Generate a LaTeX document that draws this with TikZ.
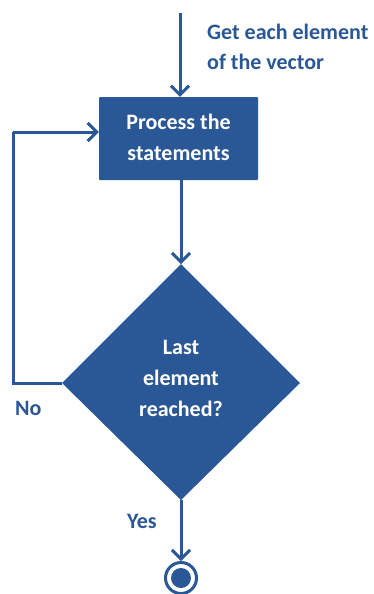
\documentclass[tikz,border=0pt]{standalone}
\usepackage{fontspec}
\setmainfont{Carlito}
\usetikzlibrary{arrows.meta,shapes.geometric}
\definecolor{flowblue}{RGB}{42,87,150}
\begin{document}
\begin{tikzpicture}[x=1pt,y=-1pt,
  flow/.style={draw=flowblue,line width=3pt,-{Straight Barb[length=9pt,width=18pt,line width=3pt]}},
  plain/.style={draw=flowblue,line width=3pt},
  lbl/.style={text=flowblue,font=\bfseries\fontsize{22}{30}\selectfont,inner sep=0pt},
  inlbl/.style={text=white,font=\bfseries\fontsize{22}{31}\selectfont,align=center,inner sep=0pt}]
\useasboundingbox (0,0) rectangle (373,594);
% process box
\node[fill=flowblue,draw=none,minimum width=159pt,minimum height=83pt,inner sep=0pt,
  rounded corners=1pt] (proc) at (178.5,138.5) {};
\node[inlbl,align=center] (proctxt) at (178.5,137) {Process the\\statements};
% decision diamond
\fill[flowblue] (181,264) coordinate (dtop) -- (300,383) coordinate (dright)
  -- (181,500) coordinate (dbot) -- (62,383) coordinate (dleft) -- cycle;
\node[inlbl] (dtxt) at (181,378) {Last\\element\\reached?};
% terminal
\node[circle,draw=flowblue,line width=3pt,minimum size=31pt,inner sep=0pt] (term) at (181,578) {};
\fill[flowblue] (term.center) circle (10pt);
% entry
\coordinate (start) at (180,13);
\draw[flow] (start) -- (proc.north -| start);
\node[lbl,anchor=north west,align=left] (gettxt) at (207,24) {Get each element\\of the vector};
% connectors
\draw[flow] (proc.south -| dtop) -- (dtop);
\coordinate (loopbot) at (13,383);
\coordinate (looptop) at (13,132);
\draw[plain] (dleft) -- (loopbot) -- (looptop);
\draw[flow] (looptop) -- (proc.west |- looptop);
\draw[flow] (dbot) -- (term.north);
\node[lbl,anchor=west] (no) at (15,408) {No};
\node[lbl,anchor=west] (yes) at (127,521) {Yes};
\end{tikzpicture}
\end{document}
